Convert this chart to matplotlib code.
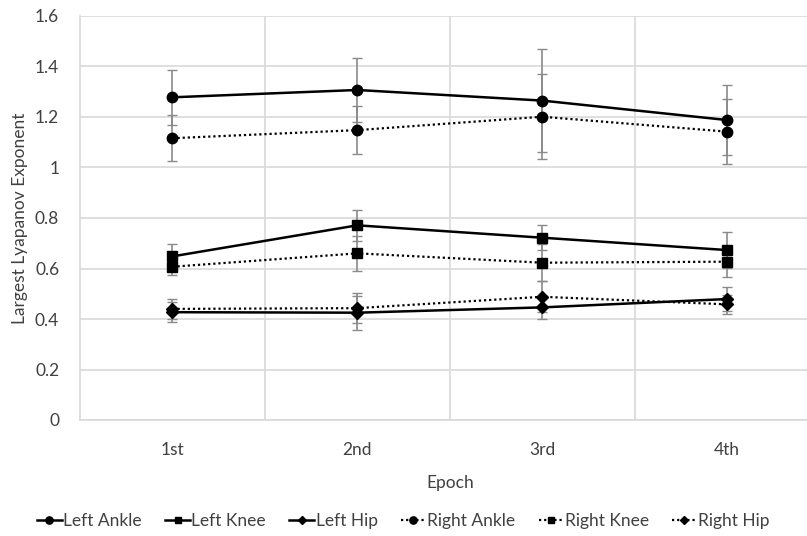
import numpy as np
import matplotlib.pyplot as plt
from matplotlib.ticker import FuncFormatter, MultipleLocator

plt.rcParams['font.family'] = ['Lato', 'DejaVu Sans']

epochs = ["1st", "2nd", "3rd", "4th"]

left_ankle = [1.278, 1.307, 1.265, 1.188]
left_ankle_err = [0.108, 0.125, 0.204, 0.140]
left_knee = [0.648, 0.771, 0.722, 0.673]
left_knee_err = [0.049, 0.062, 0.050, 0.072]
left_hip = [0.427, 0.425, 0.446, 0.479]
left_hip_err = [0.040, 0.067, 0.047, 0.049]
right_ankle = [1.116, 1.148, 1.201, 1.142]
right_ankle_err = [0.090, 0.095, 0.168, 0.130]
right_knee = [0.607, 0.660, 0.623, 0.627]
right_knee_err = [0.032, 0.070, 0.073, 0.060]
right_hip = [0.440, 0.443, 0.488, 0.458]
right_hip_err = [0.040, 0.060, 0.062, 0.039]

series = [
    ("Left Ankle", left_ankle, left_ankle_err, 'o', '-'),
    ("Left Knee", left_knee, left_knee_err, 's', '-'),
    ("Left Hip", left_hip, left_hip_err, 'D', '-'),
    ("Right Ankle", right_ankle, right_ankle_err, 'o', ':'),
    ("Right Knee", right_knee, right_knee_err, 's', ':'),
    ("Right Hip", right_hip, right_hip_err, 'D', ':'),
]

fig = plt.figure(figsize=(8.07, 5.36), dpi=100)
ax = fig.add_axes([80/807, 116/536, 739.5/807, 404/536])

x = np.arange(len(epochs))
handles = []
for name, vals, err, mk, ls in series:
    if ls == '-':
        style = dict(linestyle='-', linewidth=1.8)
    else:
        style = dict(linestyle=(0, (1, 1.3)), linewidth=1.6)
    ms = 6.5 if mk == 'D' else 7.5 if mk == 'o' else 7
    ax.errorbar(x, vals, yerr=err, ecolor='#8a8a8a', elinewidth=1.2,
                capsize=3.5, capthick=1.0, fmt='none', zorder=2)
    h, = ax.plot(x, vals, color='black', marker=mk, markersize=ms,
                 label=name, zorder=3, **style)
    handles.append(h)

ax.set_xlim(-0.5, 3.5)
ax.set_ylim(0, 1.6)
ax.set_xticks(x)
ax.set_xticklabels(epochs)
ax.set_xticks([0.5, 1.5, 2.5], minor=True)
ax.yaxis.set_major_locator(MultipleLocator(0.2))
ax.yaxis.set_major_formatter(FuncFormatter(lambda v, p: '%g' % round(v, 1)))
ax.grid(True, which='major', axis='y', color='#d9d9d9', linewidth=1.2)
ax.grid(True, which='minor', axis='x', color='#d9d9d9', linewidth=1.2)
ax.set_axisbelow(True)
for s in ['top', 'right']:
    ax.spines[s].set_visible(False)
ax.spines['left'].set_color('#d9d9d9')
ax.spines['bottom'].set_color('#d9d9d9')
ax.spines['left'].set_linewidth(1.2)
ax.spines['bottom'].set_linewidth(1.2)
ax.tick_params(which='both', length=0, labelsize=12.5, colors='#404040')
ax.tick_params(axis='y', pad=15)
ax.tick_params(axis='x', pad=16)
ax.set_xlabel("Epoch", fontsize=12.5, color='#404040', labelpad=12)
ax.set_ylabel("Largest Lyapanov Exponent", fontsize=12.5, color='#404040', labelpad=5)

fig.legend(handles=handles, loc='center', bbox_to_anchor=(0.5, 15/536), ncol=6,
           frameon=False, fontsize=12.5, handlelength=1.4, handletextpad=0.1,
           columnspacing=1.35, labelcolor='#404040', markerscale=0.7)

fig.savefig('out.png', dpi=100)
